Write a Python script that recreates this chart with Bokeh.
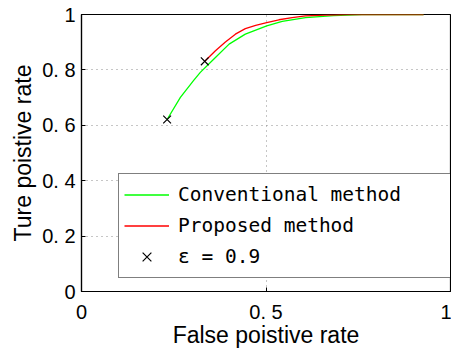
from bokeh.plotting import figure
from bokeh.models import Range1d, Legend, LegendItem, FixedTicker
from bokeh.embed import file_html
from bokeh.resources import INLINE

conv_fpr = [0.232, 0.268, 0.304, 0.322, 0.363, 0.400, 0.444, 0.502, 0.544, 0.607, 0.683, 0.760, 0.927]
conv_tpr = [0.621, 0.701, 0.762, 0.791, 0.845, 0.893, 0.929, 0.959, 0.975, 0.989, 0.996, 1.0, 1.0]
prop_fpr = [0.334, 0.363, 0.390, 0.417, 0.444, 0.472, 0.502, 0.535, 0.571, 0.607, 0.660, 0.720, 0.927]
prop_tpr = [0.831, 0.869, 0.901, 0.929, 0.949, 0.961, 0.971, 0.981, 0.989, 0.995, 0.998, 1.0, 1.0]
eps_fpr = [0.232, 0.334]
eps_tpr = [0.621, 0.831]

x_ticks = [0, 0.5, 1]
x_tick_labels = ["0", "0. 5", "1"]
y_ticks = [0, 0.2, 0.4, 0.6, 0.8, 1]
y_tick_labels = ["0", "0. 2", "0. 4", "0. 6", "0. 8", "1"]

MONO = "DejaVu Sans Mono"
SANS = "Liberation Sans"

p = figure(width=451, height=350, output_backend="svg", toolbar_location=None,
           x_range=Range1d(0, 1), y_range=Range1d(0, 1),
           min_border_left=81, min_border_right=1, min_border_top=14, min_border_bottom=59)

p.outline_line_color = "black"
p.outline_line_width = 1.2
p.background_fill_color = "white"

for ax in (p.xaxis[0], p.yaxis[0]):
    ax.axis_line_color = "black"
    ax.axis_line_width = 1.2
    ax.major_tick_in = 4
    ax.major_tick_out = 0
    ax.minor_tick_in = 0
    ax.minor_tick_out = 0
    ax.major_tick_line_color = "black"
    ax.major_label_text_font = SANS
    ax.major_label_text_font_size = "20px"
    ax.major_label_text_color = "black"
    ax.axis_label_text_font = SANS
    ax.axis_label_text_font_size = "23px"
    ax.axis_label_text_font_style = "normal"
    ax.axis_label_text_color = "black"

p.xaxis.ticker = FixedTicker(ticks=x_ticks)
p.yaxis.ticker = FixedTicker(ticks=y_ticks)
p.xaxis.major_label_overrides = {t: l for t, l in zip(x_ticks, x_tick_labels)}
p.yaxis.major_label_overrides = {t: l for t, l in zip(y_ticks, y_tick_labels)}
p.xaxis.axis_label = "False poistive rate"
p.yaxis.axis_label = "Ture poistive rate"
p.xaxis.major_label_standoff = 9
p.yaxis.major_label_standoff = 6
p.xaxis.axis_label_standoff = -4
p.yaxis.axis_label_standoff = 3

p.grid.grid_line_color = "#8c8c8c"
p.grid.grid_line_dash = "1 4"
p.grid.grid_line_width = 1

r_conv = p.line(conv_fpr, conv_tpr, line_color="#00ff00", line_width=1.3)
r_prop = p.line(prop_fpr, prop_tpr, line_color="#ff0000", line_width=1.3)
r_eps = p.scatter(eps_fpr, eps_tpr, marker="x", size=11, line_color="black", line_width=1.2)

legend = Legend(items=[
    LegendItem(label="Conventional method", renderers=[r_conv]),
    LegendItem(label="Proposed method", renderers=[r_prop]),
    LegendItem(label="ε = 0.9", renderers=[r_eps]),
], location=(37, 13))
legend.label_text_font = MONO
legend.label_text_font_size = "19.5px"
legend.label_text_color = "black"
legend.border_line_color = "black"
legend.border_line_width = 1.2
legend.background_fill_color = "white"
legend.background_fill_alpha = 1
legend.padding = 5
legend.spacing = 0
legend.margin = 0
legend.label_height = 31
legend.glyph_height = 31
legend.glyph_width = 45
legend.label_standoff = 9
legend.label_width = 268
p.add_layout(legend, "center")

open("out.html", "w").write(file_html(p, INLINE))
